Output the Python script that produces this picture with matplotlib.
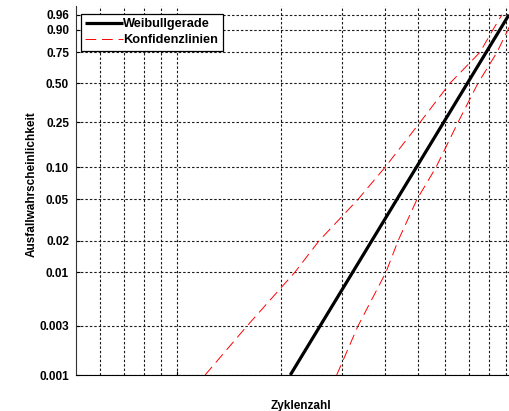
import numpy as np
import matplotlib
matplotlib.use("Agg")
import matplotlib.pyplot as plt
from matplotlib.ticker import NullFormatter, NullLocator, LogLocator

plt.rcParams['font.family'] = ['Liberation Sans', 'DejaVu Sans']

# Weibull probability paper: failure probability levels
prob_ticks = [0.001, 0.003, 0.01, 0.02, 0.05, 0.10, 0.25, 0.50, 0.75, 0.90, 0.96]
prob_labels = ['0.001', '0.003', '0.01', '0.02', '0.05', '0.10', '0.25', '0.50', '0.75', '0.90', '0.96']

# Weibull line (straight on Weibull paper)
weibull_prob = [0.001, 0.96]
weibull_cycles = [2.13e5, 9.17e5]

# Confidence lines, read at the tick probabilities
conf_prob = [0.001, 0.003, 0.01, 0.02, 0.05, 0.10, 0.25, 0.50, 0.75, 0.90, 0.96]
conf_upper_cycles = [1.206e5, 1.596e5, 2.198e5, 2.579e5, 3.347e5, 4.009e5,
                     5.062e5, 6.184e5, 7.555e5, 8.240e5, 8.750e5]
conf_lower_cycles = [2.903e5, 3.347e5, 4.036e5, 4.371e5, 4.962e5, 5.634e5,
                     6.523e5, 7.456e5, 8.464e5, 9.109e5, 9.544e5]


def weib_fwd(p):
    p = np.clip(np.asarray(p, dtype=float), 1e-9, 1 - 1e-9)
    return np.log(-np.log(1 - p))


def weib_inv(g):
    return 1 - np.exp(-np.exp(g))


fig = plt.figure(figsize=(5.09, 4.11), dpi=100)
ax = fig.add_axes([76 / 509, 36 / 411, 433 / 509, 369 / 411])

ax.set_xscale('log')
ax.set_yscale('function', functions=(weib_fwd, weib_inv))

ax.plot(weibull_cycles, weibull_prob, color='black', lw=2.3,
        solid_capstyle='butt', label='Weibullgerade', zorder=4)
ax.plot(conf_upper_cycles, conf_prob, color='red', lw=0.7,
        linestyle=(0, (11, 6)), label='Konfidenzlinien', zorder=3)
ax.plot(conf_lower_cycles, conf_prob, color='red', lw=0.7,
        linestyle=(0, (11, 6)), zorder=3)

ax.set_xlim(5.095e4, 9.17e5)
ax.set_ylim(0.001, 0.98)

ax.set_yticks(prob_ticks)
ax.set_yticklabels(prob_labels)
ax.yaxis.set_minor_locator(NullLocator())
ax.xaxis.set_major_locator(LogLocator(base=10))
ax.xaxis.set_minor_locator(LogLocator(base=10, subs=np.arange(2, 10)))
ax.xaxis.set_major_formatter(NullFormatter())
ax.xaxis.set_minor_formatter(NullFormatter())

ax.tick_params(axis='y', direction='in', length=3, width=0.8, pad=5,
               labelsize=8.5)
ax.tick_params(axis='x', which='major', direction='in', length=3, width=0.8)
ax.tick_params(axis='x', which='minor', length=0)
for lab in ax.get_yticklabels():
    lab.set_fontweight('bold')

grid_kw = dict(color='0.1', lw=0.8, linestyle=(0, (2.2, 1.8)))
ax.grid(True, which='both', axis='x', **grid_kw)
ax.grid(True, which='major', axis='y', **grid_kw)

ax.spines['top'].set_visible(False)
ax.spines['right'].set_visible(False)
ax.spines['left'].set_color('0.2')
ax.spines['bottom'].set_color('black')

ax.set_xlabel('Zyklenzahl', fontsize=8.5, fontweight='bold')
ax.xaxis.set_label_coords(225 / 433, -25 / 369)
ax.set_ylabel('Ausfallwahrscheinlichkeit', fontsize=8.5, fontweight='bold')
ax.yaxis.set_label_coords(-38 / 433, 0.518)

leg = ax.legend(loc='upper left', bbox_to_anchor=(5 / 433, 1 - 8 / 369),
                fancybox=False, edgecolor='black', framealpha=1,
                borderaxespad=0, handlelength=2.9, handletextpad=0.05,
                borderpad=0.35, labelspacing=0.3,
                prop={'weight': 'bold', 'size': 9.2})
leg.get_frame().set_linewidth(0.9)

fig.savefig('out.png', dpi=100)
